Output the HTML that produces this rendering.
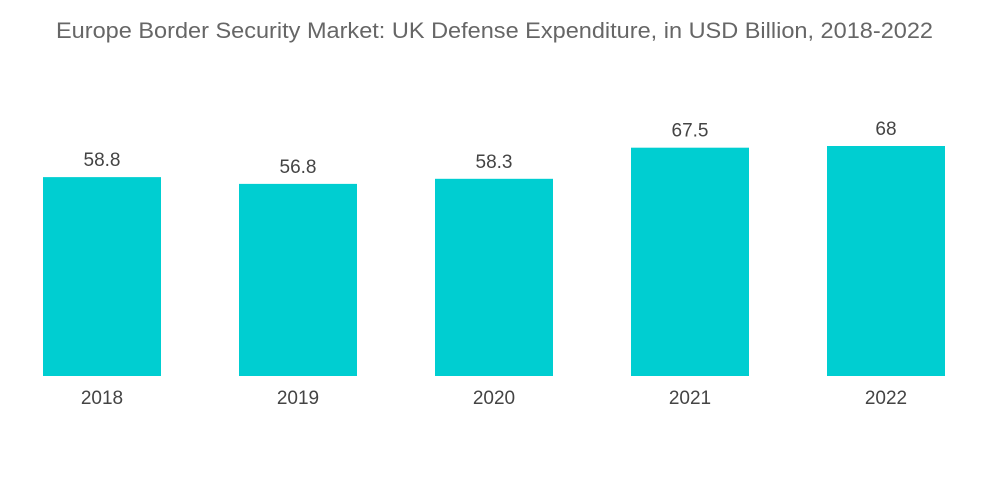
<!DOCTYPE html>
<html><head><meta charset="utf-8"><style>
html,body{margin:0;padding:0;background:#fff;}
svg{display:block;font-family:"Liberation Sans",sans-serif;}
</style></head><body>
<svg id="chart" width="1000" height="504">
<text x="56" y="38" font-size="22" textLength="877" lengthAdjust="spacingAndGlyphs" fill="#666">Europe Border Security Market: UK Defense Expenditure, in USD Billion, 2018-2022</text>
<g id="bars"></g>
</svg>
<script>
const categories = ["2018","2019","2020","2021","2022"];
const values = [58.8, 56.8, 58.3, 67.5, 68];
const valueLabels = ["58.8","56.8","58.3","67.5","68"];

const baseY = 376, pxPerUnit = 230/68, x0 = 43, step = 196, bw = 118;
function xPos(i){ return x0 + i*step; }
function yPos(v){ return baseY - v*pxPerUnit; }
const g = document.getElementById('bars');
const NS = "http://www.w3.org/2000/svg";
categories.forEach((c,i)=>{
  const r = document.createElementNS(NS,'rect');
  r.setAttribute('x', xPos(i)); r.setAttribute('y', yPos(values[i]));
  r.setAttribute('width', bw); r.setAttribute('height', baseY - yPos(values[i]));
  r.setAttribute('fill', '#00ced1');
  
  
  g.appendChild(r);
  const t = document.createElementNS(NS,'text');
  t.setAttribute('x', xPos(i)+bw/2); t.setAttribute('y', yPos(values[i])-11);
  t.setAttribute('text-anchor','middle'); t.setAttribute('font-size','19'); t.setAttribute('fill','#444');
  t.textContent = valueLabels[i];
  
  
  g.appendChild(t);
  const l = document.createElementNS(NS,'text');
  l.setAttribute('x', xPos(i)+bw/2); l.setAttribute('y', 404);
  l.setAttribute('text-anchor','middle'); l.setAttribute('font-size','19'); l.setAttribute('fill','#444');
  l.textContent = c;
  
  
  g.appendChild(l);
});
</script>
</body></html>
